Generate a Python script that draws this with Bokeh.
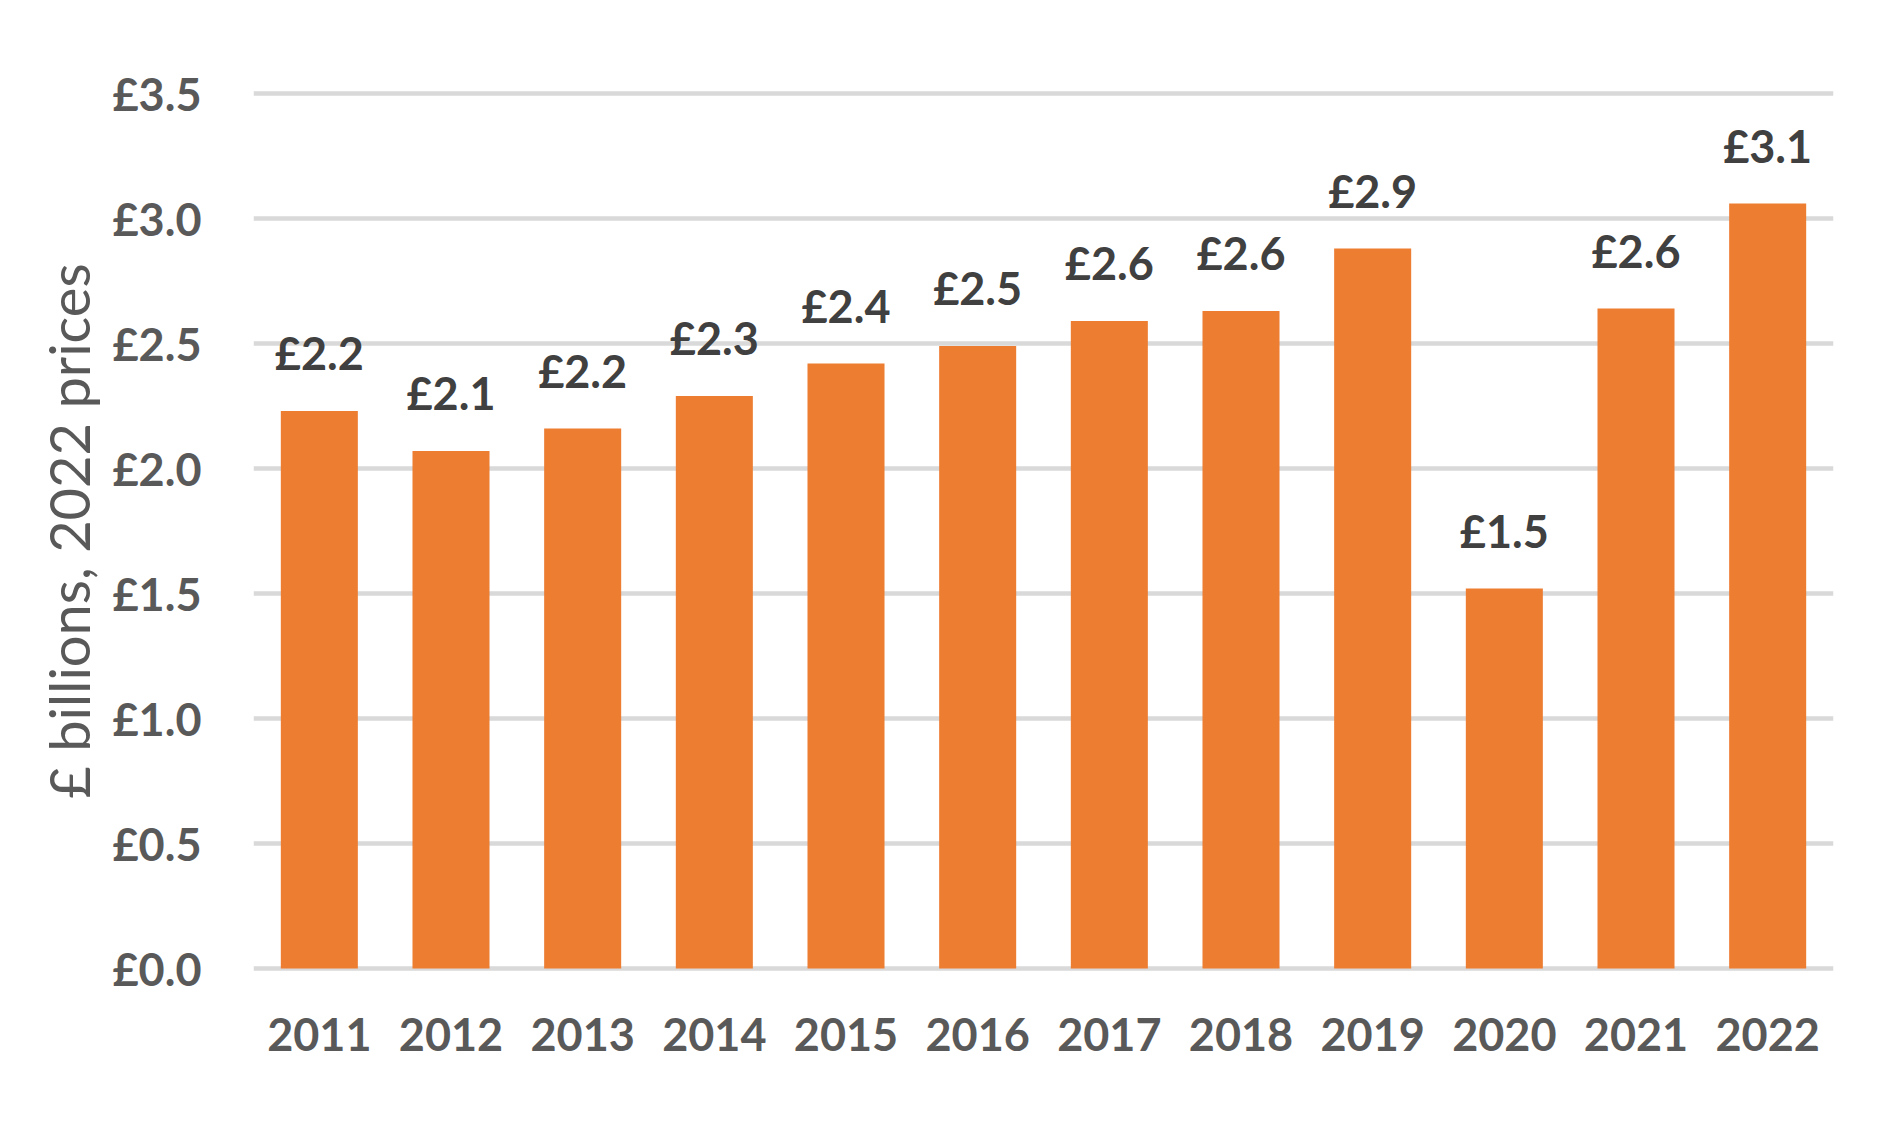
from bokeh.plotting import figure
from bokeh.models import ColumnDataSource, LabelSet, Range1d, FactorRange, FixedTicker, CustomJSTickFormatter
from bokeh.core.properties import value
from bokeh.embed import file_html
from bokeh.resources import INLINE

years = ["2011", "2012", "2013", "2014", "2015", "2016", "2017", "2018", "2019", "2020", "2021", "2022"]
values = [2.23, 2.07, 2.16, 2.29, 2.42, 2.49, 2.59, 2.63, 2.88, 1.52, 2.64, 3.06]
y_ticks = [0.0, 0.5, 1.0, 1.5, 2.0, 2.5, 3.0, 3.5]
labels = ["£%.1f" % v for v in values]

src = ColumnDataSource(dict(year=years, value=values, label=labels))

p = figure(
    x_range=FactorRange(*years, range_padding=0),
    y_range=Range1d(-0.02, 3.52),
    width=1874, height=1109,
    output_backend="svg", toolbar_location=None,
    min_border_left=253, min_border_right=41, min_border_top=88, min_border_bottom=136,
)
p.outline_line_color = None
p.background_fill_color = "white"
p.border_fill_color = "white"

p.vbar(x="year", top="value", width=0.585, bottom=0, source=src,
       fill_color="#ED7D31", line_color=None)

p.add_layout(LabelSet(x="year", y="value", text="label", source=src,
                      text_align="center", text_baseline="alphabetic",
                      y_offset=41, text_font=value("Lato"), text_font_style="bold",
                      text_font_size="45px", text_color="#404040"))

p.xgrid.grid_line_color = None
p.ygrid.grid_line_color = "#D9D9D9"
p.ygrid.grid_line_width = 4.5
p.ygrid.ticker = FixedTicker(ticks=y_ticks)

p.yaxis.ticker = FixedTicker(ticks=y_ticks)
p.yaxis.formatter = CustomJSTickFormatter(code="return '£' + tick.toFixed(1);")
p.yaxis.axis_line_color = None
p.yaxis.major_tick_line_color = None
p.yaxis.minor_tick_line_color = None
p.yaxis.major_label_standoff = 46
p.yaxis.major_label_text_font = "Lato"
p.yaxis.major_label_text_font_style = "bold"
p.yaxis.major_label_text_font_size = "45px"
p.yaxis.major_label_text_color = "#595959"
p.yaxis.axis_label = "£ billions, 2022 prices"
p.yaxis.axis_label_text_font = "Lato"
p.yaxis.axis_label_text_font_style = "normal"
p.yaxis.axis_label_text_font_size = "56px"
p.yaxis.axis_label_text_color = "#595959"
p.yaxis.axis_label_standoff = 8

p.xaxis.axis_line_color = None
p.xaxis.major_tick_line_color = None
p.xaxis.minor_tick_line_color = None
p.xaxis.major_label_standoff = 38
p.xaxis.major_label_text_font = "Lato"
p.xaxis.major_label_text_font_style = "bold"
p.xaxis.major_label_text_font_size = "45px"
p.xaxis.major_label_text_color = "#595959"

open("out.html", "w").write(file_html(p, INLINE))
